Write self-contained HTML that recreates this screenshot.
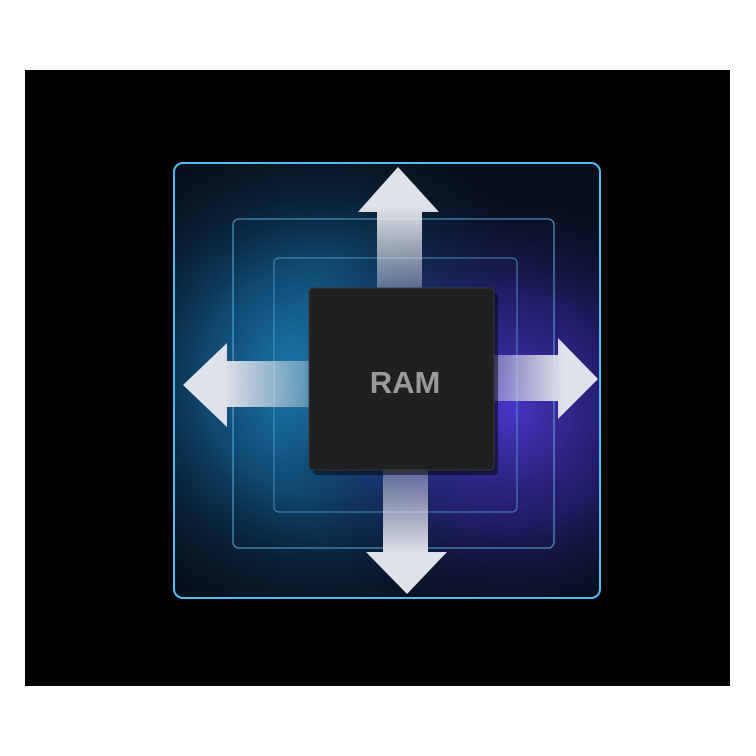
<!DOCTYPE html>
<html><head><meta charset="utf-8"><style>
html,body{margin:0;padding:0;background:#fff;width:756px;height:756px;overflow:hidden}
</style></head><body>
<svg width="756" height="756" viewBox="0 0 756 756" xmlns="http://www.w3.org/2000/svg">
<defs>
<radialGradient id="gc" cx="320" cy="380" r="260" gradientUnits="userSpaceOnUse">
<stop offset="0" stop-color="#1f8fc6" stop-opacity="0.95"/>
<stop offset="0.45" stop-color="#125a8c" stop-opacity="0.75"/>
<stop offset="1" stop-color="#07192c" stop-opacity="0"/>
</radialGradient>
<radialGradient id="gp" cx="510" cy="410" r="230" gradientUnits="userSpaceOnUse">
<stop offset="0" stop-color="#4a36cc" stop-opacity="0.95"/>
<stop offset="0.5" stop-color="#2d2288" stop-opacity="0.65"/>
<stop offset="1" stop-color="#0b0a26" stop-opacity="0"/>
</radialGradient>
<linearGradient id="au" x1="0" y1="0" x2="0" y2="1"><stop offset="0.3" stop-color="#dfe2ea"/><stop offset="1" stop-color="#dfe2ea" stop-opacity="0.25"/></linearGradient>
<linearGradient id="ad" x1="0" y1="1" x2="0" y2="0"><stop offset="0.3" stop-color="#dfe2ea"/><stop offset="1" stop-color="#dfe2ea" stop-opacity="0.25"/></linearGradient>
<linearGradient id="al" x1="0" y1="0" x2="1" y2="0"><stop offset="0.3" stop-color="#dfe2ea"/><stop offset="1" stop-color="#dfe2ea" stop-opacity="0.25"/></linearGradient>
<linearGradient id="ar" x1="1" y1="0" x2="0" y2="0"><stop offset="0.3" stop-color="#dfe2ea"/><stop offset="1" stop-color="#dfe2ea" stop-opacity="0.25"/></linearGradient>
</defs>
<rect x="25" y="70" width="705" height="616" fill="#000"/>
<rect x="174" y="163" width="426" height="435" rx="9" fill="#07101c"/>
<rect x="174" y="163" width="426" height="435" rx="9" fill="url(#gc)"/>
<rect x="174" y="163" width="426" height="435" rx="9" fill="url(#gp)"/>
<rect x="174" y="163" width="426" height="435" rx="9" fill="none" stroke="#52bcf0" stroke-width="2"/>
<rect x="233" y="219" width="321" height="329" rx="6" fill="none" stroke="#5fb0e0" stroke-opacity="0.75" stroke-width="1.3"/>
<rect x="274" y="258" width="243" height="254" rx="5" fill="none" stroke="#5fb0e0" stroke-opacity="0.6" stroke-width="1.2"/>
<path d="M398,167 L439,212 L422,212 L422,300 L377,300 L377,212 L358,212 Z" fill="url(#au)"/>
<path d="M407,594 L447,552 L428,552 L428,460 L383,460 L383,552 L366,552 Z" fill="url(#ad)"/>
<path d="M183,385 L227,343 L227,361 L320,361 L320,407 L227,407 L227,427 Z" fill="url(#al)"/>
<path d="M598,379 L558,338 L558,355 L480,355 L480,401 L558,401 L558,419 Z" fill="url(#ar)"/>
<rect x="313" y="293" width="185" height="182" rx="4" fill="#000" opacity="0.5"/>
<rect x="309" y="288" width="185" height="182" rx="4" fill="#1f2022" stroke="#38393c" stroke-width="1"/>
<text x="405" y="393" text-anchor="middle" font-family="Liberation Sans, sans-serif" font-weight="bold" font-size="31" fill="#9a9a9a">RAM</text>
</svg>
</body></html>
